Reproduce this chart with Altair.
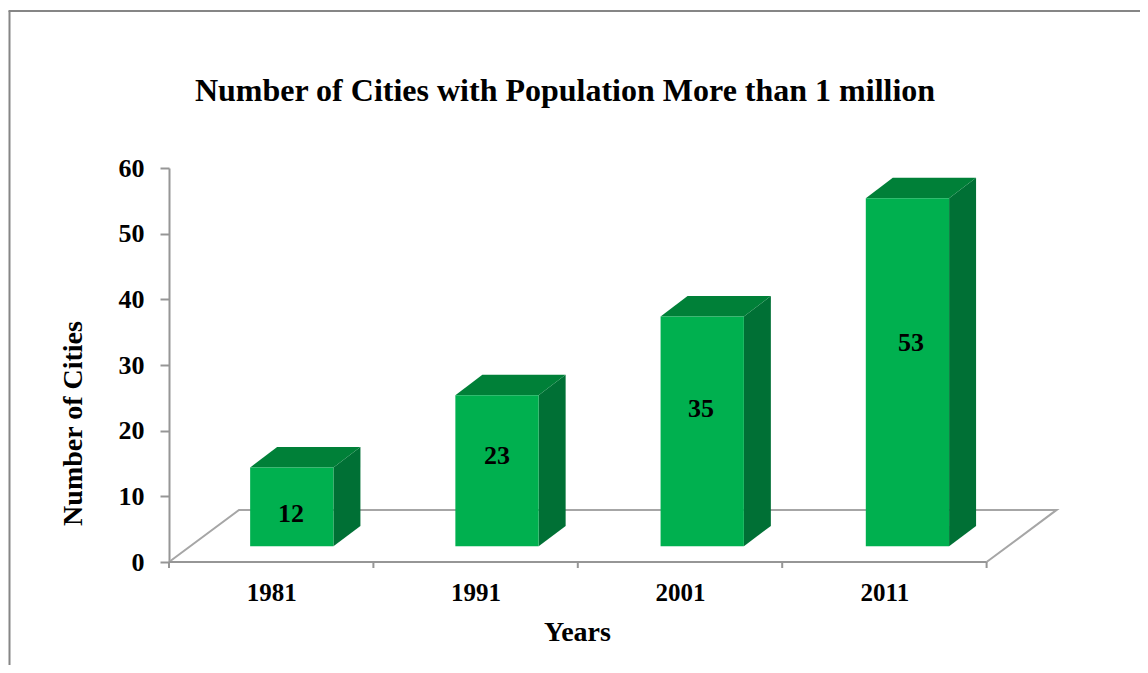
import altair as alt
import pandas as pd

years = ["1981", "1991", "2001", "2011"]
cities = [12, 23, 35, 53]
label_anchor = [7.3, 16.2, 23.3, 33.4]
label_across = [0.597, 1.605, 2.603, 3.63]
y_ticks = [0, 10, 20, 30, 40, 50, 60]
x_label_pos = [0.5, 1.5, 2.5, 3.5]

FONT = "Liberation Serif"
GRAY = "#969696"
FRONT, TOP, SIDE = "#00B04F", "#008038", "#007035"

W, H = 892, 394
UNIT = 204.4
xs = alt.Scale(domain=[0, W / UNIT], nice=False, zero=False)
ys = alt.Scale(domain=[0, 60], nice=False, zero=False)

BASE = 2.4
DX, DY = 0.132, 3.1
FX, FY = 0.3425, 7.93
BAR_START, BAR_STEP, BAR_W = 0.397, 1.004, 0.4075

front, side, top, labels = [], [], [], []
for i, (yr, v) in enumerate(zip(years, cities)):
    l = BAR_START + i * BAR_STEP
    r = l + BAR_W
    t = BASE + v
    front.append({"year": yr, "l": l, "r": r, "b": BASE, "t": t})
    side += [
        {"year": yr, "x": r, "ya": t, "yb": BASE},
        {"year": yr, "x": r + DX, "ya": t + DY, "yb": BASE + DY},
    ]
    top += [
        {"year": yr, "x": l, "ya": t, "yb": t},
        {"year": yr, "x": l + DX, "ya": t + DY, "yb": t},
        {"year": yr, "x": r, "ya": t + DY, "yb": t},
        {"year": yr, "x": r + DX, "ya": t + DY, "yb": t + DY},
    ]
    labels.append({"x": label_across[i], "y": label_anchor[i], "v": v})

floor = pd.DataFrame(
    {"o": [0, 1, 2, 3], "x": [0, FX, 4 + FX, 4], "y": [0, FY, FY, 0]}
)

label_expr = (
    "datum.value < 1 ? '1981' : datum.value < 2 ? '1991' : "
    "datum.value < 3 ? '2001' : '2011'"
)
x_axis = alt.Axis(
    values=x_label_pos,
    labelExpr=label_expr,
    ticks=False,
    domain=False,
    grid=False,
    labelFont=FONT,
    labelFontWeight="bold",
    labelFontSize=25,
    labelColor="black",
    labelPadding=18,
    labelFlush=False,
    labelOverlap=False,
    title="Years",
    titleFont=FONT,
    titleFontWeight="bold",
    titleFontSize=28,
    titleColor="black",
    titleX=408,
    titleY=56,
)
y_axis = alt.Axis(
    values=y_ticks,
    grid=False,
    domainColor=GRAY,
    domainWidth=2,
    tickColor=GRAY,
    tickWidth=2,
    tickSize=9,
    labelFont=FONT,
    labelFontWeight="bold",
    labelFontSize=26,
    labelColor="black",
    labelPadding=16,
    title="Number of Cities",
    titleFont=FONT,
    titleFontWeight="bold",
    titleFontSize=28,
    titleColor="black",
    titleX=-82,
    titleY=255,
)

X = lambda f="x": alt.X(f"{f}:Q", scale=xs, axis=x_axis)
Y = lambda f="y": alt.Y(f"{f}:Q", scale=ys, axis=y_axis)
YA = lambda: alt.Y("ya:Q", scale=ys, axis=y_axis, stack=False)

floor_line = (
    alt.Chart(floor)
    .mark_line(color="#A6A6A6", strokeWidth=2)
    .encode(x=X(), y=Y(), order="o:Q")
)
base_rule = (
    alt.Chart(pd.DataFrame({"x": [0], "x2": [4], "y": [0]}))
    .mark_rule(color=GRAY, strokeWidth=2)
    .encode(x=X(), x2="x2:Q", y=Y())
)
x_ticks = (
    alt.Chart(pd.DataFrame({"x": [0, 1, 2, 3, 4]}))
    .mark_rule(color=GRAY, strokeWidth=2)
    .encode(x=X(), y=alt.value(H), y2=alt.value(H + 6))
)
side_face = (
    alt.Chart(pd.DataFrame(side))
    .mark_area(color=SIDE, orient="vertical")
    .encode(x=X(), y=YA(), y2="yb:Q", detail="year:N")
)
top_face = (
    alt.Chart(pd.DataFrame(top))
    .mark_area(color=TOP, orient="vertical")
    .encode(x=X(), y=YA(), y2="yb:Q", detail="year:N")
)
front_face = (
    alt.Chart(pd.DataFrame(front))
    .mark_rect(color=FRONT)
    .encode(x=X("l"), x2="r:Q", y=Y("b"), y2="t:Q")
)
value_text = (
    alt.Chart(pd.DataFrame(labels))
    .mark_text(font=FONT, fontWeight="bold", fontSize=26, color="black", baseline="middle")
    .encode(x=X(), y=Y(), text="v:Q")
)

one = pd.DataFrame({"a": [0]})
frame_left = (
    alt.Chart(one)
    .mark_rule(color="#868686", strokeWidth=2)
    .encode(x=alt.value(-159.5), y=alt.value(-157), y2=alt.value(497))
)
frame_top = (
    alt.Chart(one)
    .mark_rule(color="#868686", strokeWidth=2)
    .encode(x=alt.value(-160.5), x2=alt.value(971), y=alt.value(-157))
)

chart = (
    alt.layer(
        frame_left, frame_top, floor_line, base_rule, x_ticks,
        side_face, top_face, front_face, value_text,
    )
    .properties(
        width=W,
        height=H,
        background="white",
        autosize=alt.AutoSizeParams(type="none"),
        padding={"left": 161, "top": 160, "right": 79, "bottom": 103},
        title=alt.TitleParams(
            "Number of Cities with Population More than 1 million",
            font=FONT,
            fontWeight="bold",
            fontSize=32,
            color="black",
            anchor="middle",
            frame="group",
            dx=-50,
            dy=98,
            offset=0,
        ),
    )
    .configure_view(stroke="transparent", strokeWidth=0)
)

chart.save("out.html", embed_options={"renderer": "svg", "actions": False})
